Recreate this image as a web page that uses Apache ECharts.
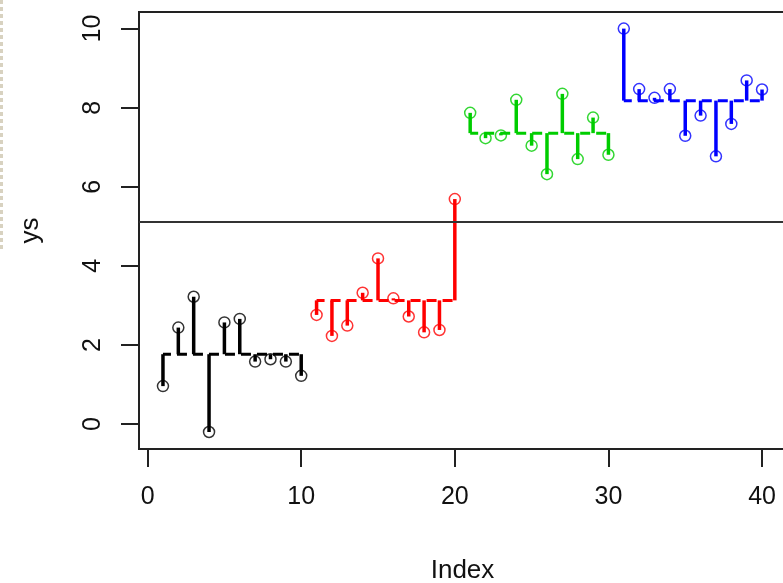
<!DOCTYPE html>
<html>
<head>
<meta charset="utf-8">
<title>ys</title>
<script src="https://cdn.jsdelivr.net/npm/echarts@6/dist/echarts.min.js"></script>
<style>
  html, body { margin: 0; padding: 0; background: #fff; }
  #chart { width: 783px; height: 583px; }
</style>
</head>
<body>
<div id="chart"></div>
<script>
// four groups of ten readings, plotted against their index
const groupA = [0.96, 2.44, 3.22, -0.2, 2.57, 2.66, 1.58, 1.64, 1.58, 1.22]
const groupB = [2.76, 2.23, 2.49, 3.32, 4.19, 3.18, 2.72, 2.32, 2.38, 5.69]
const groupC = [7.87, 7.23, 7.30, 8.20, 7.04, 6.32, 8.35, 6.70, 7.75, 6.81]
const groupD = [10.0, 8.47, 8.25, 8.47, 7.29, 7.80, 6.77, 7.59, 8.69, 8.46]

const groupColors = ['#000000', '#ff0000', '#00cd00', '#0000ff']
const xTicks = [0, 10, 20, 30, 40]
const yTicks = [0, 2, 4, 6, 8, 10]

const groups = [groupA, groupB, groupC, groupD]
const mean = arr => arr.reduce((s, v) => s + v, 0) / arr.length
const allYs = groups.flat()
const grandMean = mean(allYs)

const chart = echarts.init(document.getElementById('chart'))

const textColor = '#111'
const font = 'Liberation Sans, Arial, sans-serif'

const series = []

groups.forEach((ys, g) => {
  const color = groupColors[g]
  const m = mean(ys)
  const offset = g * ys.length
  const first = offset + 1
  const last = offset + ys.length

  // vertical residual from the group mean to each point
  series.push({
    type: 'custom',
    silent: true,
    z: 3,
    encode: { x: 0, y: 1 },
    data: ys.map((y, i) => [offset + i + 1, y, m]),
    renderItem: (params, api) => {
      const from = api.coord([api.value(0), api.value(2)])
      const to = api.coord([api.value(0), api.value(1)])
      return {
        type: 'line',
        shape: { x1: from[0], y1: from[1], x2: to[0], y2: to[1] },
        style: { stroke: color, lineWidth: 3.5, lineCap: 'butt' }
      }
    }
  })

  // group mean
  series.push({
    type: 'line',
    silent: true,
    z: 2,
    symbol: 'none',
    data: [[first, m], [last, m]],
    lineStyle: { color: color, width: 3, type: [10, 6], dashOffset: 2 }
  })

  // the points themselves
  series.push({
    type: 'scatter',
    silent: true,
    z: 4,
    symbol: 'circle',
    symbolSize: 11,
    data: ys.map((y, i) => [offset + i + 1, y]),
    itemStyle: { color: 'rgba(0,0,0,0)', borderColor: color, borderWidth: 1.5 }
  })
})

// overall mean
series.push({
  type: 'line',
  silent: true,
  data: [],
  markLine: {
    silent: true,
    symbol: 'none',
    label: { show: false },
    lineStyle: { color: '#333', width: 2, type: 'solid' },
    data: [{ yAxis: grandMean }]
  }
})

const axisCommon = {
  type: 'value',
  splitLine: { show: false },
  axisLine: { show: true, onZero: false, lineStyle: { color: '#222', width: 2 } },
  axisTick: { show: true, length: 18, lineStyle: { color: '#222', width: 2 } },
  axisLabel: { color: textColor, fontSize: 25, fontFamily: font },
  nameLocation: 'middle',
  nameTextStyle: { color: textColor, fontSize: 26, fontFamily: font }
}

const option = {
  animation: false,
  backgroundColor: '#fff',
  grid: {
    show: true,
    left: 139,
    top: 12,
    width: 647,
    height: 437,
    outerBoundsMode: 'none',
    containLabel: false,
    borderColor: '#222',
    borderWidth: 2,
    backgroundColor: 'transparent'
  },
  xAxis: {
    ...axisCommon,
    min: -0.56,
    max: 41.56,
    name: 'Index',
    nameGap: 109,
    axisTick: { ...axisCommon.axisTick, customValues: xTicks },
    axisLabel: { ...axisCommon.axisLabel, customValues: xTicks, margin: 36 }
  },
  yAxis: {
    ...axisCommon,
    min: -0.63,
    max: 10.42,
    name: 'ys',
    nameGap: 95,
    axisTick: { ...axisCommon.axisTick, customValues: yTicks },
    axisLabel: { ...axisCommon.axisLabel, customValues: yTicks, rotate: 90, margin: 33 }
  },
  graphic: [{
    type: 'line',
    silent: true,
    shape: { x1: 1.5, y1: 0, x2: 1.5, y2: 250 },
    style: { stroke: '#d8d2c0', lineWidth: 3, lineDash: [4, 3] }
  }],
  series: series
}

chart.setOption(option)
</script>
</body>
</html>
